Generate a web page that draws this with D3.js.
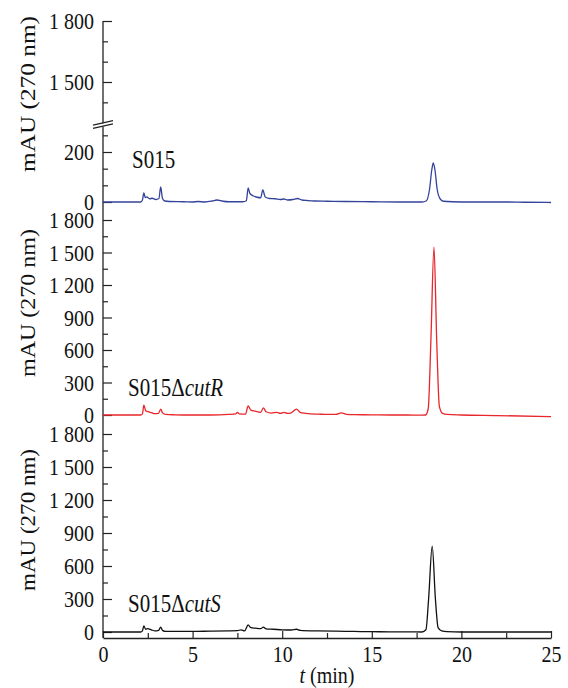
<!DOCTYPE html>
<html>
<head>
<meta charset="utf-8">
<script src="https://cdn.jsdelivr.net/npm/d3@7"></script>
<style>
  body { margin: 0; background: #fff; }
  svg { display: block; }
  svg text { font-family: "Liberation Serif", "Times New Roman", serif; }
</style>
</head>
<body>
<div id="chart"></div>
<script>
// tick values
const xTicks = [0, 5, 10, 15, 20, 25];
const xMinorTicks = [2.5, 7.5, 12.5, 17.5, 22.5];
const topUpperTicks = [1500, 1800];
const topUpperMinor = [1400, 1600, 1700];
const topLowerTicks = [0, 200];
const topLowerMinor = [66.7, 133.3, 266.7];
const panelTicks = [0, 300, 600, 900, 1200, 1500, 1800];
const panelMinor = [150, 450, 750, 1050, 1350, 1650];

// sample names (plain part + italic part)
const namePlain = ["S015", "S015\u0394", "S015\u0394"];
const nameItalic = ["", "cutR", "cutS"];

// chromatograms: [time (min), mAU]
const s015 = [
  [0, 0], [2.1, 0], [2.2, 8], [2.28, 36], [2.36, 18], [2.45, 20], [2.6, 13], [2.75, 15], [2.95, 10],
  [3.12, 14], [3.22, 60], [3.32, 14], [3.45, 4], [3.7, 2], [4.5, 1], [5.0, 0], [5.3, 2], [5.7, 0],
  [6.1, 4], [6.35, 8], [6.7, 3], [7.0, 1], [7.8, 1], [8.0, 5], [8.1, 56], [8.2, 34], [8.4, 24],
  [8.6, 19], [8.8, 17], [8.92, 48], [9.05, 20], [9.3, 14], [9.6, 13], [9.9, 10], [10.1, 12], [10.3, 8],
  [10.6, 10], [10.85, 14], [11.1, 8], [11.4, 6], [11.8, 4], [12.5, 3], [13.5, 2], [15, 1], [16.5, 0],
  [17.8, 0], [18.05, 5], [18.22, 50], [18.35, 130], [18.43, 156], [18.52, 130], [18.65, 50], [18.82, 12],
  [19.0, 3], [19.5, 1], [20.5, 0], [22.5, 0], [23.5, -1], [25, -2]
];
const s015cutR = [
  [0, 0], [2.1, 0], [2.2, 10], [2.28, 92], [2.38, 40], [2.5, 32], [2.7, 22], [2.9, 12], [3.1, 16],
  [3.22, 55], [3.32, 20], [3.5, 5], [4, 2], [5, 0], [6, 0], [7, 5], [7.4, 10], [7.5, 25], [7.6, 10],
  [7.95, 8], [8.1, 83], [8.25, 45], [8.5, 35], [8.8, 25], [8.95, 65], [9.1, 30], [9.4, 18], [9.7, 25],
  [9.9, 15], [10.1, 25], [10.3, 15], [10.5, 20], [10.8, 55], [11.0, 25], [11.3, 15], [11.6, 10],
  [12, 8], [12.5, 5], [13.0, 5], [13.3, 20], [13.6, 5], [14, 3], [15, 2], [16, 0], [17, 0], [17.6, -2],
  [18.0, 0], [18.15, 60], [18.3, 700], [18.47, 1550], [18.62, 700], [18.77, 80], [18.95, 15], [19.2, 5],
  [20, 0], [22, -5], [25, -15]
];
const s015cutS = [
  [0, 0], [2.1, 0], [2.2, 10], [2.28, 55], [2.38, 25], [2.5, 30], [2.7, 20], [2.9, 10], [3.1, 15],
  [3.22, 45], [3.32, 15], [3.5, 5], [5, 5], [6, 8], [7, 10], [7.5, 12], [7.7, 20], [7.9, 10],
  [8.1, 64], [8.25, 40], [8.5, 35], [8.8, 30], [8.95, 45], [9.1, 28], [9.5, 25], [10, 20], [10.5, 18],
  [10.8, 25], [11, 15], [12, 10], [13, 8], [14, 5], [15, 3], [16, 2], [17, 2], [17.8, 0], [18.02, 20],
  [18.17, 300], [18.37, 780], [18.55, 300], [18.7, 40], [18.9, 10], [19.2, 3], [20, 0], [25, 0]
];

const width = 568;
const height = 688;
const axisX = 103;
const xAxisY = 638;
const serif = "'Liberation Serif', 'Times New Roman', serif";

const svg = d3.select("#chart").append("svg")
  .attr("width", width)
  .attr("height", height);

const xScale = d3.scaleLinear().domain([0, 25]).range([axisX, 551]);

// top panel has a broken axis
const yTopUp = d3.scaleLinear().domain([1500, 1800]).range([82, 21]);
const yTopLow = d3.scaleLinear().domain([0, 200]).range([202, 152]);
const yMid = d3.scaleLinear().domain([0, 1800]).range([415, 220]);
const yBot = d3.scaleLinear().domain([0, 1800]).range([632, 434]);

const fmt = d3.formatLocale({ decimal: ".", thousands: " ", grouping: [3], currency: ["", ""] }).format(",");

function drawYAxis(scale, major, minor) {
  svg.append("g")
    .attr("transform", `translate(${axisX},0)`)
    .call(d3.axisLeft(scale).tickValues(major).tickSizeInner(-9).tickSizeOuter(0).tickPadding(9).tickFormat(fmt))
    .attr("font-family", serif)
    .call(g => g.select(".domain").remove())
    .call(g => g.selectAll("line").attr("stroke", "#222").attr("stroke-width", 1.2))
    .call(g => g.selectAll("text")
      .attr("font-size", 20)
      .attr("fill", "#111")
      .attr("transform", "scale(1,1.2)"));
  svg.append("g")
    .attr("transform", `translate(${axisX},0)`)
    .call(d3.axisLeft(scale).tickValues(minor).tickSizeInner(-5).tickSizeOuter(0).tickFormat(""))
    .call(g => g.select(".domain").remove())
    .call(g => g.selectAll("line").attr("stroke", "#222").attr("stroke-width", 1.2));
}

drawYAxis(yTopUp, topUpperTicks, topUpperMinor);
drawYAxis(yTopLow, topLowerTicks, topLowerMinor);
drawYAxis(yMid, panelTicks, panelMinor);
drawYAxis(yBot, panelTicks, panelMinor);

// vertical axis line
svg.append("line")
  .attr("x1", axisX).attr("x2", axisX)
  .attr("y1", yTopUp(1800)).attr("y2", xAxisY)
  .attr("stroke", "#222").attr("stroke-width", 1.3);

// axis break
svg.append("polygon")
  .attr("points", `${axisX - 4},124.5 ${axisX + 4},122.3 ${axisX + 4},125.6 ${axisX - 4},127.8`)
  .attr("fill", "#fff");
[[93, 125.2, 113, 120.6], [93, 128.4, 113, 123.8]].forEach(function (m) {
  svg.append("line")
    .attr("x1", m[0]).attr("y1", m[1]).attr("x2", m[2]).attr("y2", m[3])
    .attr("stroke", "#222").attr("stroke-width", 1.2);
});

// x axis
svg.append("g")
  .attr("transform", `translate(0,${xAxisY})`)
  .call(d3.axisBottom(xScale).tickValues(xTicks).tickSizeInner(-7).tickSizeOuter(0).tickPadding(6))
  .attr("font-family", serif)
  .call(g => g.select(".domain").attr("stroke", "#222").attr("stroke-width", 1.3))
  .call(g => g.selectAll("line").attr("stroke", "#222").attr("stroke-width", 1.2))
  .call(g => g.selectAll("text")
    .attr("font-size", 20)
    .attr("fill", "#111")
    .attr("transform", "scale(1,1.2)"));
svg.append("g")
  .attr("transform", `translate(0,${xAxisY})`)
  .call(d3.axisBottom(xScale).tickValues(xMinorTicks).tickSizeInner(-5).tickSizeOuter(0).tickFormat(""))
  .call(g => g.select(".domain").remove())
  .call(g => g.selectAll("line").attr("stroke", "#222").attr("stroke-width", 1.2));

const xTitle = svg.append("g")
  .attr("transform", "translate(327,683) scale(1,1.2)")
  .append("text")
  .attr("text-anchor", "middle")
  .attr("font-family", serif)
  .attr("font-size", 20)
  .attr("fill", "#111");
xTitle.append("tspan").attr("font-style", "italic").text("t");
xTitle.append("tspan").text(" (min)");

// traces
const traces = [
  { data: s015, y: yTopLow, color: "#33439a" },
  { data: s015cutR, y: yMid, color: "#e8262b" },
  { data: s015cutS, y: yBot, color: "#111111" }
];
traces.forEach(function (t) {
  const line = d3.line()
    .x(d => xScale(d[0]))
    .y(d => t.y(d[1]))
    .curve(d3.curveMonotoneX);
  svg.append("path")
    .datum(t.data)
    .attr("d", line)
    .attr("fill", "none")
    .attr("stroke", t.color)
    .attr("stroke-width", 1.3)
    .attr("stroke-linejoin", "round");
});

// y titles
const yTitles = [
  { cy: 94, len: 156 },
  { cy: 303, len: 148 },
  { cy: 520, len: 142 }
];
yTitles.forEach(function (t) {
  svg.append("text")
    .attr("transform", `translate(35,${t.cy}) rotate(-90)`)
    .attr("text-anchor", "middle")
    .attr("font-family", serif)
    .attr("font-size", 20)
    .attr("fill", "#111")
    .attr("textLength", t.len)
    .attr("lengthAdjust", "spacingAndGlyphs")
    .text("mAU (270 nm)");
});

// sample labels
const labelPos = [[132, 168], [128, 396], [128, 612]];
labelPos.forEach(function (p, i) {
  const txt = svg.append("g")
    .attr("transform", `translate(${p[0]},${p[1]}) scale(1,1.15)`)
    .append("text")
    .attr("font-family", serif)
    .attr("font-size", 21)
    .attr("fill", "#111");
  txt.append("tspan").text(namePlain[i]);
  if (nameItalic[i]) txt.append("tspan").attr("font-style", "italic").text(nameItalic[i]);
});
</script>
</body>
</html>
